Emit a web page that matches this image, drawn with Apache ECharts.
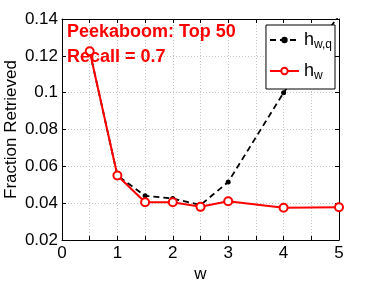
<!DOCTYPE html>
<html><head><meta charset="utf-8">
<script src="https://cdn.jsdelivr.net/npm/echarts@6/dist/echarts.min.js"></script>
<style>html,body{margin:0;padding:0;background:#fff}#c{width:374px;height:281px}</style>
</head><body><div id="c"></div>
<script>
const wValues = [0.5, 1, 1.5, 2, 2.5, 3, 4, 5];
const hwq = [0.1225, 0.055, 0.044, 0.0425, 0.039, 0.0515, 0.100, 0.142];
const hw = [0.1225, 0.055, 0.0405, 0.0405, 0.038, 0.041, 0.0375, 0.0378];
const xTicks = [0, 1, 2, 3, 4, 5];
const yTicks = [0.02, 0.04, 0.06, 0.08, 0.1, 0.12, 0.14];
const annotation = ['Peekaboom: Top 50', 'Recall = 0.7'];

const FONT = 'Liberation Sans';
const chart = echarts.init(document.getElementById('c'), null, {renderer: 'canvas'});
const fmtY = v => { const r = Math.round(v * 100) / 100; return yTicks.some(t => Math.abs(t - r) < 1e-9) ? String(r) : ''; };
const fmtX = v => xTicks.includes(v) ? String(v) : '';
const axisCommon = {
  axisLine: {show: true, onZero: false, lineStyle: {color: '#000', width: 1}},
  axisTick: {show: true, inside: true, length: 4, lineStyle: {color: '#000'}},
};
chart.setOption({
  animation: false,
  backgroundColor: '#fff',
  grid: {left: 62, right: 35, top: 19, bottom: 41, containLabel: false, outerBoundsMode: 'none'},
  xAxis: [
    Object.assign({type: 'value', min: 0, max: 5, interval: 0.5, position: 'bottom',
      name: 'w', nameLocation: 'middle', nameGap: 26, nameMoveOverlap: false,
      nameTextStyle: {fontFamily: FONT, fontSize: 17, color: '#000'},
      axisLabel: {formatter: fmtX, fontFamily: FONT, fontSize: 17, color: '#000', margin: 5},
      splitLine: {show: true, lineStyle: {color: '#c4c4c4', type: [1, 2], width: 1}}}, axisCommon),
    Object.assign({type: 'value', min: 0, max: 5, interval: 0.5, position: 'top',
      axisLabel: {show: false}, splitLine: {show: false}}, axisCommon)
  ],
  yAxis: [
    Object.assign({type: 'value', min: 0.02, max: 0.14, interval: 0.02, position: 'left',
      name: 'Fraction Retrieved', nameLocation: 'middle', nameGap: 42, nameMoveOverlap: false,
      nameTextStyle: {fontFamily: FONT, fontSize: 17, color: '#000'},
      axisLabel: {formatter: fmtY, fontFamily: FONT, fontSize: 17, color: '#000', margin: 4},
      splitLine: {show: true, lineStyle: {color: '#c4c4c4', type: [1, 2], width: 1}}}, axisCommon),
    Object.assign({type: 'value', min: 0.02, max: 0.14, interval: 0.02, position: 'right',
      axisLabel: {show: false}, splitLine: {show: false}}, axisCommon)
  ],
  legend: {
    right: 39, top: 25, orient: 'vertical', backgroundColor: '#fff', z: 10,
    borderColor: '#000', borderWidth: 1, borderRadius: 0, padding: [6, 3, 7, 3],
    itemWidth: 29, itemHeight: 8, itemGap: 11,
    data: ['hwq', 'hw'],
    formatter: n => n === 'hwq' ? '{h|h}{s|w,q}' : '{h|h}{s|w}',
    textStyle: {
      color: '#000', fontFamily: FONT,
      rich: {
        h: {fontSize: 18, fontFamily: FONT, color: '#000'},
        s: {fontSize: 12, fontFamily: FONT, color: '#000', padding: [10, 0, 0, 0]}
      }
    }
  },
  graphic: [{
    type: 'text', left: 67, top: 20, z: 5,
    style: {text: annotation.join('\n'), fill: '#f00', fontFamily: FONT, fontSize: 18,
      fontWeight: 'bold', lineHeight: 25}
  }],
  series: [
    {name: 'hwq', type: 'line', data: wValues.map((w, i) => [w, hwq[i]]),
      symbol: 'circle', symbolSize: 5, itemStyle: {color: '#000'},
      lineStyle: {color: '#000', width: 1.8, type: [6, 4]}, z: 2, clip: true},
    {name: 'hw', type: 'line', data: wValues.map((w, i) => [w, hw[i]]),
      symbol: 'emptyCircle', symbolSize: 8, itemStyle: {color: '#f00', borderWidth: 1.5},
      lineStyle: {color: '#f00', width: 2}, z: 3, clip: true}
  ]
});
</script></body></html>
